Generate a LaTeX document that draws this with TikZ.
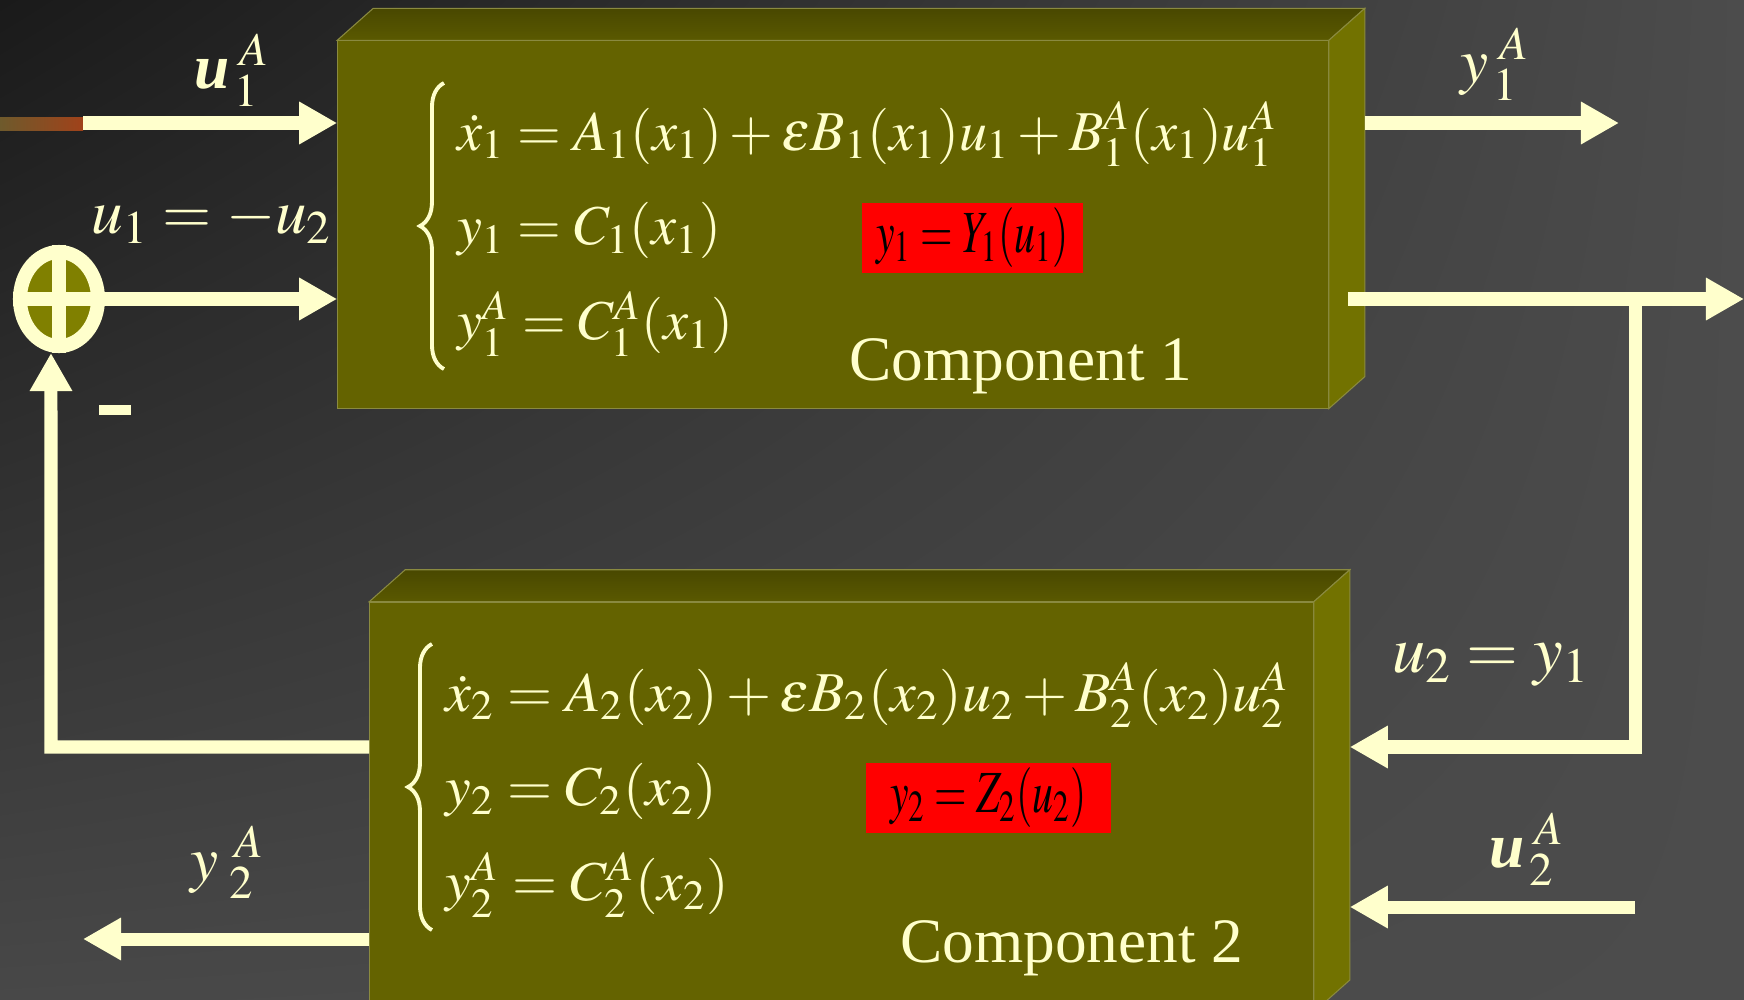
\documentclass[tikz,border=0pt]{standalone}
\usepackage{mathptmx}
\usepackage[no-math]{fontspec}
\setmainfont{Liberation Serif}
\usepackage{xcolor}
\usepackage{amsmath}
\usepackage{graphicx}
\usepackage{tikz}
\usetikzlibrary{shapes.geometric, arrows.meta, positioning, calc, shadings, decorations.pathreplacing}

\definecolor{cream}{HTML}{FFFFCC}
\definecolor{olivefront}{HTML}{646300}
\definecolor{olivetop}{HTML}{494800}
\definecolor{olivetoplight}{HTML}{5A5900}
\definecolor{oliveside}{HTML}{727200}
\definecolor{oliveedge}{HTML}{8A8A40}
\definecolor{olivesum}{HTML}{808000}
\definecolor{bgdark}{HTML}{1A1A1A}
\definecolor{bgmid}{HTML}{484848}
\definecolor{bglight}{HTML}{4C4C4C}
\definecolor{noiseA}{HTML}{6E5A2C}
\definecolor{noiseB}{HTML}{A0421A}

\begin{document}
\begin{tikzpicture}[
    x=0.01cm, y=-0.01cm,
    block/.style={rectangle, draw=oliveedge, line width=0.3pt, fill=olivefront, inner sep=0pt},
    result/.style={rectangle, fill=red, text=black, inner sep=0pt, minimum height=0.7cm, font=\fontsize{17}{20}\selectfont},
    eqs/.style={anchor=west, inner sep=0pt, text=cream, font=\fontsize{16}{19}\selectfont},
    title/.style={anchor=base, inner sep=0pt, text=cream, font=\fontsize{18}{22}\selectfont},
    lab/.style={inner sep=0pt, text=cream, font=\fontsize{19}{22}\selectfont},
    siglab/.style={anchor=base, inner sep=0pt, text=cream, font=\fontsize{18}{22}\selectfont},
    bracket/.style={draw=cream, line width=1.1pt, decorate, decoration={brace, amplitude=0.24cm}},
    wire/.style={draw=cream, line width=1.3mm, line join=miter},
    arrow/.style={wire, -{Triangle[length=3.8mm, width=4mm]}}
]

% Background
\useasboundingbox (0,0) rectangle (1744,1000);
\clip (0,0) rectangle (1744,1000);
\shade[upper left=bgdark, upper right=bglight, lower left=bgmid, lower right=bglight] (0,0) rectangle (1744,1000);

% Components
\node (c1) [block, minimum width=9.9cm, minimum height=3.67cm] at (833,224.5) {};
\node (c2) [block, minimum width=9.43cm, minimum height=4.09cm, below=1.93cm of c1, xshift=0.085cm] {};

\shade[top color=olivetop, bottom color=olivetoplight, draw=oliveedge, line width=0.3pt] (c1.north west) -- ++(36,-32) -- ($(c1.north east)+(36,-32)$) -- (c1.north east) -- cycle;
\fill[oliveside, draw=oliveedge, line width=0.3pt] (c1.north east) -- ++(36,-32) -- ($(c1.south east)+(36,-32)$) -- (c1.south east) -- cycle;
\shade[top color=olivetop, bottom color=olivetoplight, draw=oliveedge, line width=0.3pt] (c2.north west) -- ++(36,-32) -- ($(c2.north east)+(36,-32)$) -- (c2.north east) -- cycle;
\fill[oliveside, draw=oliveedge, line width=0.3pt] (c2.north east) -- ++(36,-32) -- ($(c2.south east)+(36,-32)$) -- (c2.south east) -- cycle;

\coordinate (c1side) at ($(c1.east)+(36,0)$);
\coordinate (c2side) at ($(c2.east)+(36,0)$);

% Equations
\node (eqs1) [eqs] at (457,226) {\renewcommand{\arraystretch}{1.42}$\begin{array}{@{}l@{}}
    \dot{x}_1 = A_1(x_1) + \varepsilon B_1(x_1)u_1 + B_1^A(x_1)u_1^A \\
    y_1 = C_1(x_1) \\
    y_1^A = C_1^A(x_1)
  \end{array}$};
\draw[bracket] ([xshift=-0.13cm]eqs1.south west) -- ([xshift=-0.13cm]eqs1.north west);
\node (res1) [result, minimum width=2.21cm] at (972.5,238) {\scalebox{0.7}[1]{$y_1 = Y_1(u_1)$}};
\node (title1) [title] at (1021,380) {Component 1};

\node (eqs2) [eqs] at (445,787) {\scalebox{1.03}[1]{\renewcommand{\arraystretch}{1.42}$\begin{array}{@{}l@{}}
    \dot{x}_2 = A_2(x_2) + \varepsilon B_2(x_2)u_2 + B_2^A(x_2)u_2^A \\
    y_2 = C_2(x_2) \\
    y_2^A = C_2^A(x_2)
  \end{array}$}};
\draw[bracket] ([xshift=-0.13cm]eqs2.south west) -- ([xshift=-0.13cm]eqs2.north west);
\node (res2) [result, minimum width=2.45cm] at (988.5,798) {\scalebox{0.7}[1]{$y_2 = Z_2(u_2)$}};
\node (title2) [title] at (1072,962) {Component 2};

% Sum junction
\node (sum) [ellipse, draw=cream, line width=1.4mm, fill=olivesum, minimum width=0.78cm, minimum height=0.94cm, inner sep=0pt] at (59,299) {};
\draw[wire, line width=1.4mm] (sum.north) -- (sum.south) (sum.west) -- (sum.east);
\node (minus) [fill=cream, minimum width=0.32cm, minimum height=0.09cm, inner sep=0pt] at (115,410) {};

% Labels
\node (u1Alab) [siglab] at (232,88) {$\textbf{\textit{u}}_{\,1}^{\;A}$};
\node (sumlab) [lab, font=\fontsize{18}{22}\selectfont] at (212,220) {$u_1 = -u_2$};
\node (y1Alab) [siglab] at (1495,82) {$y_{\,1}^{\;A}$};
\node (u2lab) [lab] at (1491,665) {$u_2 = y_1$};
\node (u2Alab) [siglab] at (1527,867) {$\textbf{\textit{u}}_{\,2}^{\;A}$};
\node (y2Alab) [siglab] at (228,880) {$y_{\;2}^{\;\,A}$};

% Free ends
\coordinate (u1Ain) at (83,123);
\coordinate (y1Aout) at (1619,123);
\coordinate (y1out) at (1744,299);
\coordinate (tap) at (1635,299);
\coordinate (fbturn) at (51,747);
\coordinate (u2Ain) at (1635,907);
\coordinate (y2Aout) at (83,939);

% Arrows
\fill[left color=noiseA, right color=noiseB] (0,117) rectangle (u1Ain |- 0,130);
\draw[arrow] (u1Ain) -- (u1Ain -| c1.west);
\draw[arrow] (sum) -- (sum -| c1.west);
\draw[arrow] (y1Aout -| c1side) -- (y1Aout);
\draw[arrow] ($(tap -| c1.east)+(19,0)$) -- (y1out);
\draw[arrow] (tap) |- (fbturn -| c2side);
\draw[arrow] (u2Ain) -- (u2Ain -| c2side);
\draw[arrow] (fbturn -| c2.west) -- (fbturn) -- ([xshift=-0.08cm]sum.south);
\draw[arrow] (y2Aout -| c2.west) -- (y2Aout);

\end{tikzpicture}
\end{document}
